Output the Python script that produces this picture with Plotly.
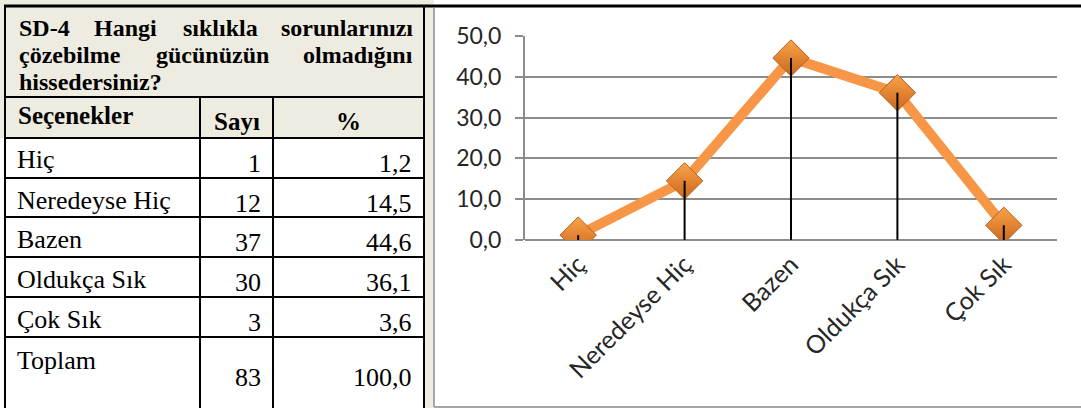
import plotly.graph_objects as go

# Survey item SD-4: answer options, counts and percentages
question_lines = [
    ["SD-4", "Hangi", "sıklıkla", "sorunlarınızı"],
    ["çözebilme", "gücünüzün", "olmadığını"],
    ["hissedersiniz?"],
]
header = ["Seçenekler", "Sayı", "%"]
options = ["Hiç", "Neredeyse Hiç", "Bazen", "Oldukça Sık", "Çok Sık"]
counts = [1, 12, 37, 30, 3]
percents = [1.2, 14.5, 44.6, 36.1, 3.6]
total_label = "Toplam"
y_ticks = [0, 10, 20, 30, 40, 50]

W, H = 1081, 408


def px(x):
    return x / W


def py(y):
    return 1 - y / H


def fmt(v):
    return f"{v:.1f}".replace(".", ",")


BEIGE = "#EEECE1"
ORANGE = "#F79646"
SERIF = "Liberation Serif"
SANS = "Lato"

fig = go.Figure()

# line with diamond markers
fig.add_trace(go.Scatter(
    x=options, y=percents, mode="lines+markers",
    line=dict(color=ORANGE, width=10),
    marker=dict(symbol="diamond", size=28, color="#FBA24A",
                gradient=dict(type="vertical", color="#C9681C"),
                line=dict(color="#B5601E", width=1)),
    hoverinfo="skip", showlegend=False,
))
# drop lines from each point to the baseline
fig.add_trace(go.Scatter(
    x=options, y=percents, mode="markers",
    marker=dict(size=1, opacity=0),
    error_y=dict(type="data", symmetric=False,
                 array=[0] * len(percents), arrayminus=percents,
                 color="black", thickness=2, width=0),
    hoverinfo="skip", showlegend=False,
))

shapes = []
annotations = []


def rect(x0, y0, x1, y1, fill, layer="below"):
    shapes.append(dict(type="rect", xref="paper", yref="paper",
                       x0=px(x0), x1=px(x1), y0=py(y0), y1=py(y1),
                       fillcolor=fill, line=dict(width=0), layer=layer))


def hline(x0, x1, y, color="black", width=2):
    shapes.append(dict(type="line", xref="paper", yref="paper",
                       x0=px(x0), x1=px(x1), y0=py(y), y1=py(y),
                       line=dict(color=color, width=width), layer="above"))


def vline(x, y0, y1, color="black", width=2):
    shapes.append(dict(type="line", xref="paper", yref="paper",
                       x0=px(x), x1=px(x), y0=py(y0), y1=py(y1),
                       line=dict(color=color, width=width), layer="above"))


def text(s, x, y, anchor="left", size=26, bold=False):
    annotations.append(dict(
        text=f"<b>{s}</b>" if bold else s, xref="paper", yref="paper",
        x=px(x), y=py(y), xanchor=anchor, yanchor="middle", showarrow=False,
        font=dict(family=SERIF, size=size, color="black"),
    ))


# table backgrounds
rect(0, 0, 425, 138, BEIGE)
rect(425, 0, 434, H, BEIGE)

# table grid
L, C1, C2, R = 5, 200, 273, 424
row_tops = [138, 178, 217, 257, 297, 337]
hline(4, W, 6, width=3)
vline(L, 5, H)
vline(R, 5, H)
hline(L, R, 97)
for y in row_tops:
    hline(L, R, y)
vline(C1, 97, H)
vline(C2, 97, H)

# chart frame
vline(434, 8, 407, color="#A6A6A6", width=2)
hline(434, W, 407, color="#A6A6A6", width=2)

# question text, justified across the cell
line_y = [28, 55, 82]
word_pos = [
    [(17, "left"), (125, "center"), (220, "center"), (415, "right")],
    [(17, "left"), (212, "center"), (415, "right")],
    [(17, "left")],
]
for words, positions, y in zip(question_lines, word_pos, line_y):
    for w, (x, a) in zip(words, positions):
        text(w, x, y, anchor=a, size=24, bold=True)

# header row
text(header[0], 16, 115, size=25, bold=True)
text(header[1], (C1 + C2) / 2, 121, anchor="center", size=25, bold=True)
text(header[2], (C2 + R) / 2, 121, anchor="center", size=25, bold=True)

# data rows
for i, (o, c, p) in enumerate(zip(options, counts, percents)):
    top = row_tops[i]
    text(o, 15, top + 22)
    text(str(c), C2 - 10, top + 25, anchor="right")
    text(fmt(p), R - 10, top + 25, anchor="right")

top = row_tops[-1]
text(total_label, 15, top + 23)
text(str(sum(counts)), C2 - 10, top + 40, anchor="right")
text(fmt(sum(percents)), R - 10, top + 40, anchor="right")

GRID = "#8C8C8C"
fig.update_layout(
    width=W, height=H,
    margin=dict(l=0, r=0, t=0, b=0, autoexpand=False),
    paper_bgcolor="white", plot_bgcolor="white",
    separators=", ",
    shapes=shapes, annotations=annotations,
    xaxis=dict(
        domain=[px(525), px(1057)], range=[-0.5, 4.5],
        showgrid=False, showline=False, zeroline=False, ticks="",
        tickangle=-45, ticklabelstandoff=4,
        tickfont=dict(family=SANS, size=25, color="#262626"),
        automargin=False, fixedrange=True,
    ),
    yaxis=dict(
        domain=[py(240), py(36)], range=[0, 50],
        tickvals=y_ticks, tickformat=".1f",
        showgrid=True, gridcolor=GRID, gridwidth=2,
        zeroline=True, zerolinecolor=GRID, zerolinewidth=2,
        showline=True, linecolor=GRID, linewidth=2,
        ticks="outside", ticklen=8, tickcolor=GRID, tickwidth=2,
        ticklabelstandoff=9,
        tickfont=dict(family=SANS, size=23, color="#262626"),
        automargin=False, fixedrange=True,
    ),
)

fig.write_html("out.html")
